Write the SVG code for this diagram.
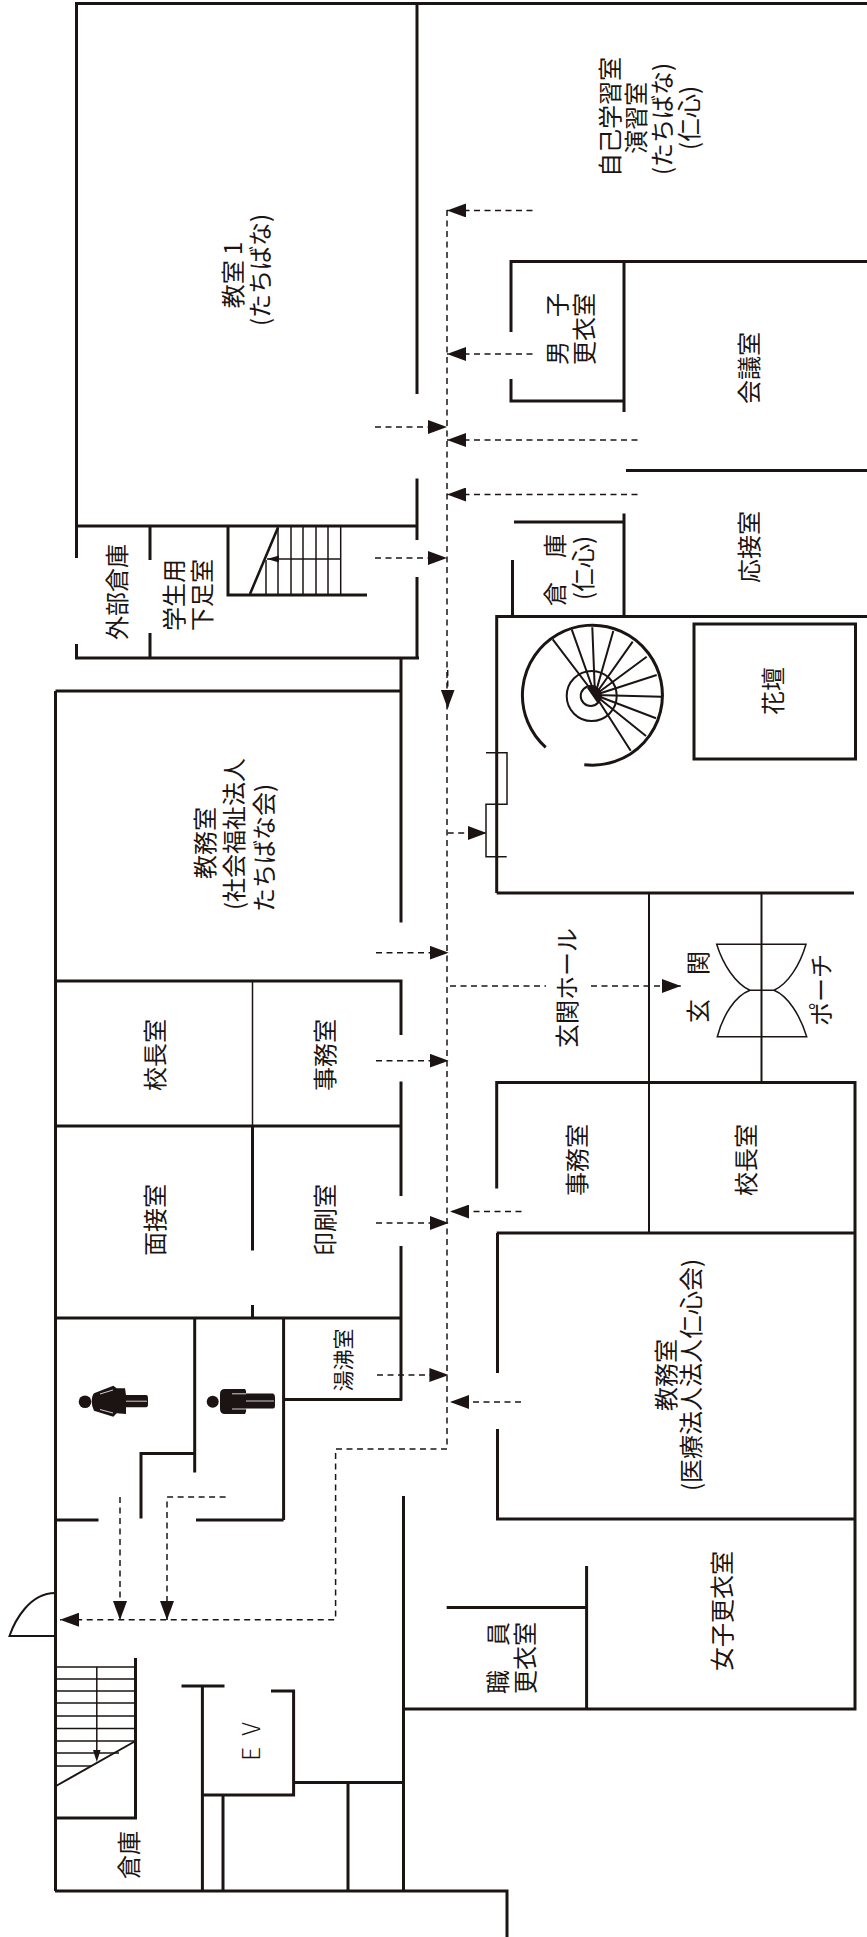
<svg xmlns="http://www.w3.org/2000/svg" width="867" height="1937" viewBox="0 0 867 1937">
<style>
.w{fill:none;stroke:#1c1412;stroke-width:3}
.m{fill:none;stroke:#1c1412;stroke-width:2}
.t{fill:none;stroke:#1c1412;stroke-width:1.5}
.d{fill:none;stroke:#1c1412;stroke-width:1.5;stroke-dasharray:6 4.5}
.k{fill:#1c1412}
.s{fill:none;stroke:#fff;stroke-width:.8}
text{font-family:"Noto Sans CJK JP","Noto Sans CJK SC",sans-serif;font-size:24px;fill:#1c1412;text-anchor:middle;dominant-baseline:central;font-weight:400}
</style>
<defs>
<marker id="a" viewBox="0 0 19 14" refX="19" refY="7" markerWidth="19" markerHeight="14" markerUnits="userSpaceOnUse" orient="auto"><path d="M0 0L19 7L0 14Z" fill="#1c1412"/></marker>
</defs>
<rect width="867" height="1937" fill="#fff"/>
<g id="walls">
<path class="w" d="M867 3.5H76.5V558M76.5 644V658H419M417 3.5V394M417 478.5V540M417 577V659M76.5 526H417M150 526V560M150 633V658"/>
<path class="w" d="M228 526V595H367"/>
<path class="w" d="M511 332V261.5H867M511 379V401H624M624 261.5V412M626 470.5H867M514 522H624M624 513.5V617M512.5 560V617M496.7 893V616.5H867M496.7 893H854"/>
<rect class="w" x="694" y="624" width="161.5" height="135"/>
<path class="m" d="M649 893V1082M761.5 893V1082M649 1082V1233"/>
<path class="w" d="M401 657V922.5M55.5 691H401M55.5 691V1891M55.5 981H401V1035M401 1081.5V1196M401 1246V1400.5M55.5 1126H401M252.5 1126V1250.5M252.5 1305V1318M55.5 1318H401"/>
<path class="t" d="M252.5 981V1126"/>
<path class="w" d="M194.7 1318V1472.5M283.6 1318V1520M283.6 1399.5H402M141 1518.5V1453.5H194.7M56 1520H98.5M196 1520H283.6"/>
<path class="w" d="M496.7 1188.5V1082.5H855V1709H403.5M403.5 1496V1891M496.7 1233H855M497.5 1233V1373M497.5 1429V1519H855M586.6 1566V1709M446.7 1607.5H586.6"/>
<path class="w" d="M135.5 1658V1818H55.5M181.5 1686H224.5M202.4 1686V1891M271 1691H293.6V1795H202.4M223 1795V1891M293.6 1782.6H403.5M348 1782.6V1891M55 1891H507V1937"/>
<path class="m" d="M55 1593C30 1593 15 1620 9.5 1636H55"/>
<path class="t" d="M486 752.7H507V804.3H486V856.7H506.7"/>
</g>
<g id="stairs">
<path class="t" d="M266 560V595M278 526V595M291 526V595M303 526V595M316 526V595M328 526V595M340.7 526V595M267 559H340.7"/>
<path class="m" d="M278 527.5L250 594" style="stroke-width:2.6"/>
<path class="k" d="M267 559L279 555.5V562.5Z"/>
<path class="t" d="M56 1667H135.5M56 1679H135.5M56 1691H135.5M56 1703H135.5M56 1716H135.5M56 1728.5H135.5M56 1741H135.5M56 1753H119M56 1766H92M96.8 1667V1755"/>
<path class="m" d="M56 1786L135.5 1741"/>
<path class="k" d="M96.8 1762L93 1750H100.6Z"/>
</g>
<g id="spiral">
<path class="w" d="M545.7 747.3A70 70 0 1 1 584.3 764.7"/>
<circle class="m" cx="591.7" cy="696" r="25"/>
<circle class="m" cx="590.7" cy="696" r="10"/>
<path class="m" d="M595 695L552.7 639.3M595 695L571.7 629.3M595 695L592.3 627.3M595 695L613.3 631M595 695L632.7 641.7M595 695L646.7 656.7M595 695L656.7 675M595 695L661.7 696.7M595 695L656 718.3M595 695L646 736M595 695L630.7 750.7"/>
<path class="k" d="M587 688L595 685L601 695L598 704Z"/>
</g>
<g id="porch">
<path class="t" d="M716.7 944.3H806C800 965 788 984 774 990.3H750C736 984 723 965 716.7 944.3ZM750 990.3C735 996 723 1015 717.3 1036.7H806.7C800 1015 788 996 774 990.3"/>
</g>
<g id="people">
<g id="woman">
<circle class="k" cx="85" cy="1401.7" r="6.3"/>
<path class="k" d="M91.7 1401.7Q91.7 1396 94 1393.3L113.3 1385.7L116.7 1388.3H125L126 1395H146Q148 1395 148 1398V1404.5Q148 1407.3 146 1407.3H126L126 1414L116.7 1413.3L113.3 1416.7L94 1410.7Q91.7 1406 91.7 1401.7Z"/>
<path class="s" d="M100 1394L113 1390M100 1409.5L113 1413M126 1401.2H147"/>
</g>
<g id="man">
<circle class="k" cx="212.7" cy="1401.7" r="6"/>
<path class="k" d="M220 1394Q220 1389 225 1389H245Q246.5 1391 246 1393.5H273Q275 1394 275 1397V1406Q275 1408.5 273 1408.5H246Q246.5 1412 245 1414H225Q220 1414 220 1409Z"/>
<path class="s" d="M232 1393.8H246M232 1409H246M246 1401H274"/>
</g>
</g>
<g id="connectors">
<path class="d" d="M447 210V1449H335.6V1619.7H60" marker-end="url(#a)"/>
<path class="d" d="M532.5 210.4H447" marker-end="url(#a)"/>
<path class="d" d="M532.5 354H447" marker-end="url(#a)"/>
<path class="d" d="M375 427H447" marker-end="url(#a)"/>
<path class="d" d="M637.5 440H447" marker-end="url(#a)"/>
<path class="d" d="M637.5 494.5H447" marker-end="url(#a)"/>
<path class="d" d="M375 558H447" marker-end="url(#a)"/>
<path class="d" d="M447.7 670V708.5" marker-end="url(#a)"/>
<path class="d" d="M447.7 833H486.7" marker-end="url(#a)"/>
<path class="d" d="M376 952.7H448.7" marker-end="url(#a)"/>
<path class="d" d="M450 986H546M591 986H680.8" marker-end="url(#a)"/>
<path class="d" d="M376 1060.7H448.7" marker-end="url(#a)"/>
<path class="d" d="M376 1223H448.7" marker-end="url(#a)"/>
<path class="d" d="M521.5 1211.6H450" marker-end="url(#a)"/>
<path class="d" d="M377 1375H448.4" marker-end="url(#a)"/>
<path class="d" d="M521 1402H450" marker-end="url(#a)"/>
<path class="d" d="M120 1497V1620" marker-end="url(#a)"/>
<path class="d" d="M225.6 1497H167V1620" marker-end="url(#a)"/>
</g>
<g id="labels">
<text transform="translate(231 275) rotate(-90)">教室 1</text>
<text transform="translate(258 270) rotate(-90)">(たちばな)</text>
<text transform="translate(608.5 117) rotate(-90)">自己学習室</text>
<text transform="translate(634 118) rotate(-90)">演習室</text>
<text transform="translate(660.5 119) rotate(-90)">(たちばな)</text>
<text transform="translate(687.5 118) rotate(-90)">(仁心)</text>
<text transform="translate(555 329) rotate(-90)">男　子</text>
<text transform="translate(582.5 329) rotate(-90)">更衣室</text>
<text transform="translate(747 368) rotate(-90)">会議室</text>
<text transform="translate(747 547) rotate(-90)">応接室</text>
<text transform="translate(553.5 570) rotate(-90)">倉　庫</text>
<text transform="translate(581 568) rotate(-90)">(仁心)</text>
<text transform="translate(115 592) rotate(-90)">外部倉庫</text>
<text transform="translate(172.5 595) rotate(-90)">学生用</text>
<text transform="translate(200 595) rotate(-90)">下足室</text>
<text transform="translate(203 843) rotate(-90)">教務室</text>
<text transform="translate(232.5 834) rotate(-90)">(社会福祉法人</text>
<text transform="translate(262.5 848) rotate(-90)">たちばな会)</text>
<text transform="translate(153.5 1055) rotate(-90)">校長室</text>
<text transform="translate(323.5 1055) rotate(-90)">事務室</text>
<text transform="translate(153.5 1220) rotate(-90)">面接室</text>
<text transform="translate(323.5 1220) rotate(-90)">印刷室</text>
<text transform="translate(771.5 691) rotate(-90)">花壇</text>
<text transform="translate(565.5 988) rotate(-90)">玄関ホール</text>
<text transform="translate(696.5 987) rotate(-90)">玄　関</text>
<text transform="translate(819 990) rotate(-90)">ポーチ</text>
<text transform="translate(575.5 1160) rotate(-90)">事務室</text>
<text transform="translate(744 1160) rotate(-90)">校長室</text>
<text transform="translate(664.5 1375) rotate(-90)">教務室</text>
<text transform="translate(689.5 1375) rotate(-90)">(医療法人法人仁心会)</text>
<text transform="translate(341.5 1360) rotate(-90)" style="font-size:21px">湯沸室</text>
<text transform="translate(720 1611) rotate(-90)">女子更衣室</text>
<text transform="translate(496 1658) rotate(-90)">職　員</text>
<text transform="translate(523.5 1658) rotate(-90)">更衣室</text>
<text transform="translate(249 1740) rotate(-90)" style="font-weight:300;letter-spacing:3px">E V</text>
<text transform="translate(127 1855) rotate(-90)">倉庫</text>
</g>
</svg>
